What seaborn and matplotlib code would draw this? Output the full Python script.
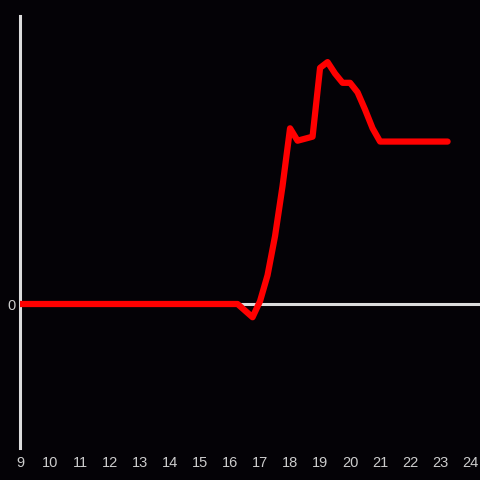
import numpy as np
import pandas as pd
import seaborn as sns
import matplotlib
matplotlib.use('Agg')
import matplotlib.pyplot as plt

# hour of day (15 min steps) and the series value
hours = [9.0, 10.0, 11.0, 12.0, 13.0, 14.0, 15.0, 16.0, 16.25,
         16.5, 16.75, 17.0, 17.25, 17.5, 17.75, 18.0, 18.25, 18.5,
         18.75, 19.0, 19.25, 19.5, 19.75, 20.0, 20.25, 20.5, 20.75,
         21.0, 21.5, 22.0, 22.5, 23.0, 23.25]
values = [0.0, 0.0, 0.0, 0.0, 0.0, 0.0, 0.0, 0.0, 0.0,
          -0.023, -0.046, 0.01, 0.10, 0.236, 0.41, 0.61, 0.567, 0.574,
          0.581, 0.82, 0.84, 0.80, 0.768, 0.768, 0.735, 0.675, 0.61,
          0.564, 0.564, 0.564, 0.564, 0.564, 0.564]
xticks = list(range(9, 25))

df = pd.DataFrame({'hour': hours, 'value': values})

bg = '#040206'
fg = '#dcdcdc'

sns.set_style('dark')
plt.rcParams['font.family'] = ['Liberation Sans', 'DejaVu Sans']

fig = plt.figure(figsize=(4.8, 4.8), dpi=100, facecolor=bg)
ax = fig.add_axes([20 / 480, 32 / 480, 460 / 480, 432 / 480])
ax.set_facecolor(bg)

ax.axhline(0, color=fg, lw=2.2, zorder=1)
sns.lineplot(data=df, x='hour', y='value', color='#ff0000', lw=4.5,
             ax=ax, zorder=3)

ax.set_xlim(9, 24.33)
ax.set_ylim(-0.5, 1.0)
ax.set_xticks(xticks)
ax.set_xticklabels([str(t) for t in xticks])
ax.set_yticks([0])
ax.set_yticklabels(['0'])
ax.set_xlabel('')
ax.set_ylabel('')
ax.grid(False)

for side in ['top', 'right', 'bottom']:
    ax.spines[side].set_visible(False)
ax.spines['left'].set_color(fg)
ax.spines['left'].set_linewidth(2.2)

ax.tick_params(axis='x', length=0, pad=6, colors='#cccccc', labelsize=10.5)
ax.tick_params(axis='y', length=0, pad=3, colors='#cccccc', labelsize=10.5)

fig.savefig('out.png', dpi=100, facecolor=bg)
